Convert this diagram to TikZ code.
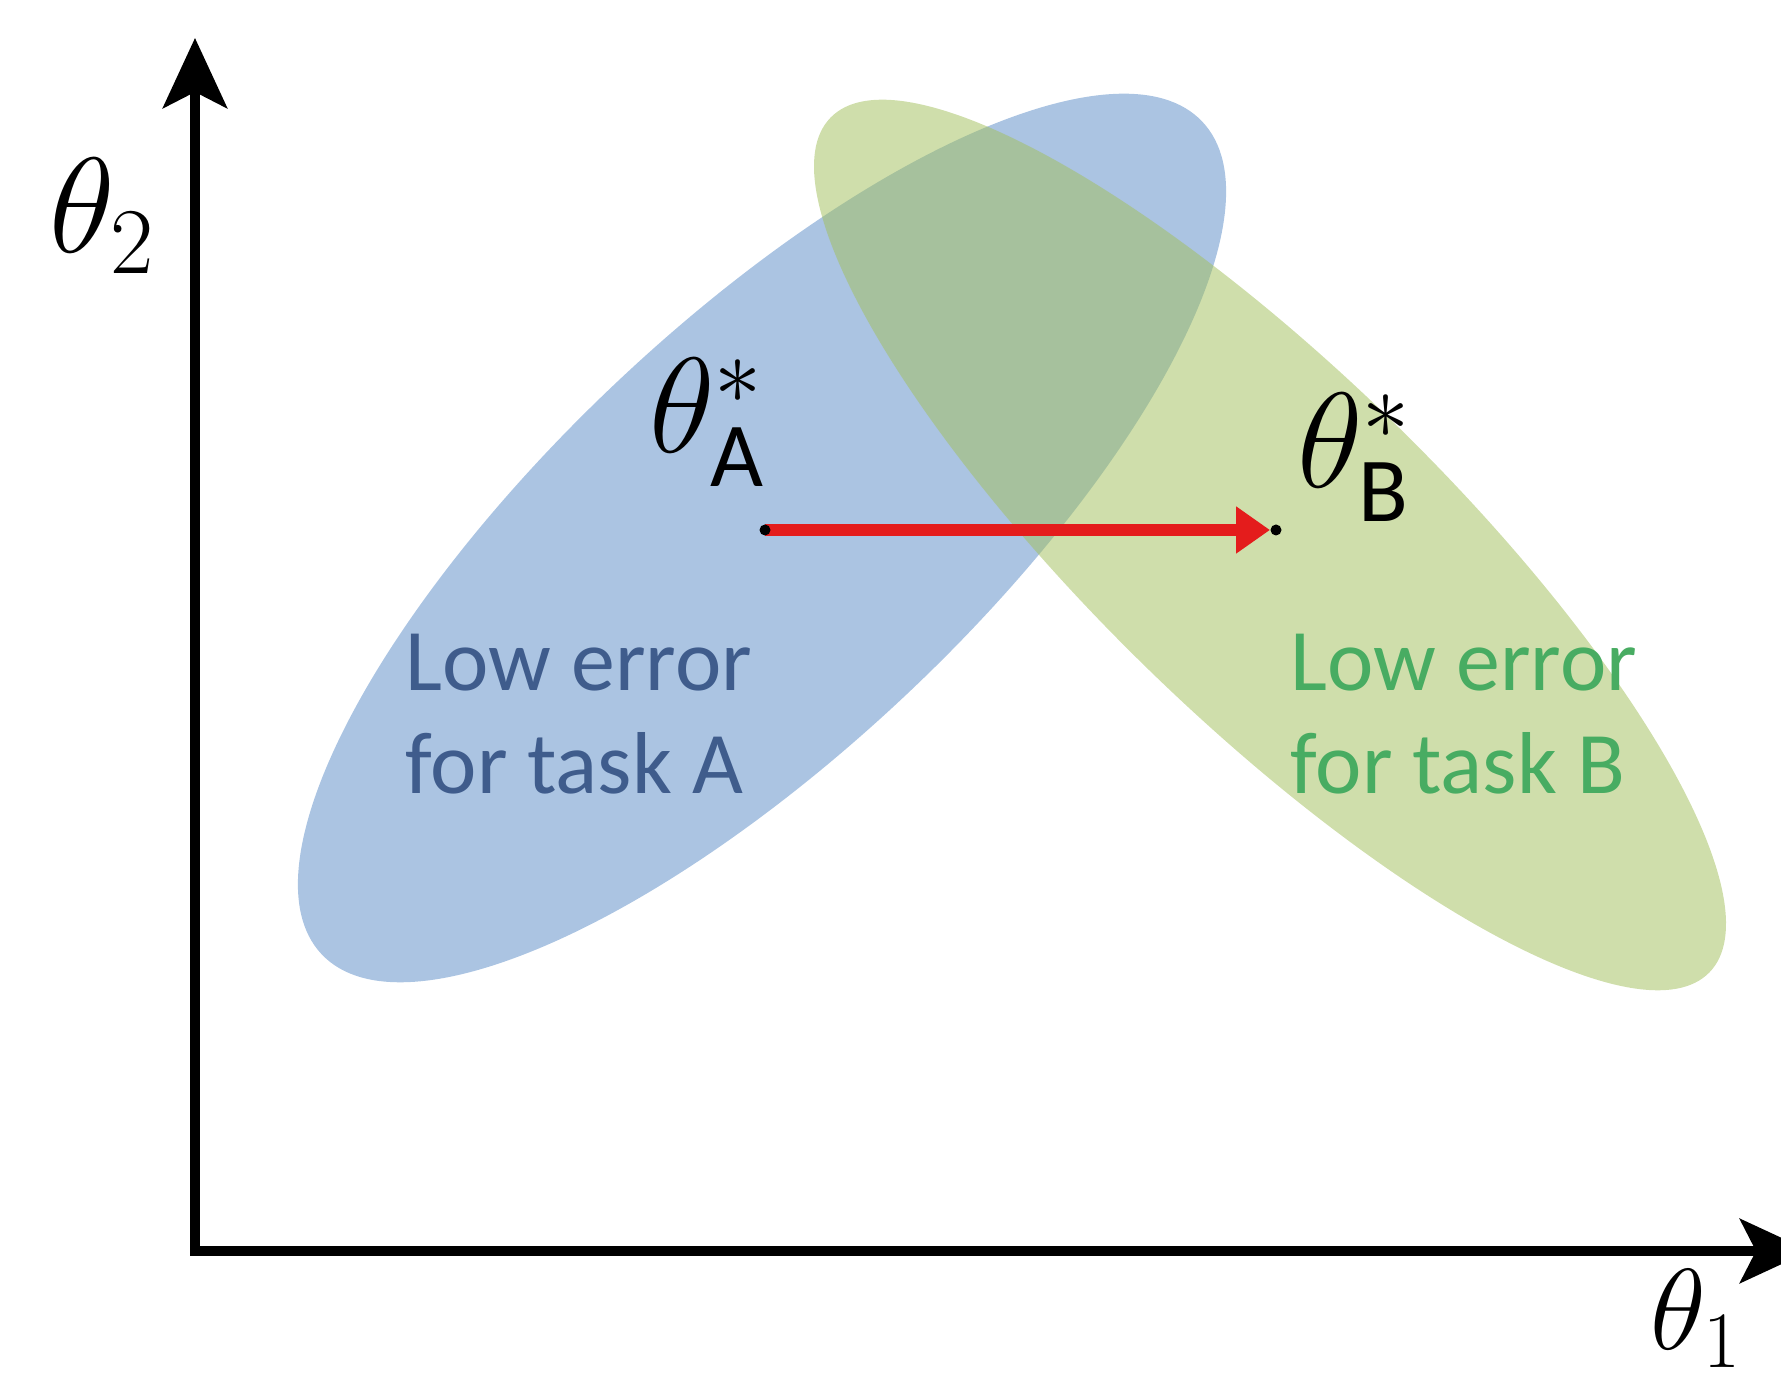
\documentclass[tikz,border=0pt]{standalone}
\usepackage{fontspec}
\setmainfont{Carlito}
\usepackage{xcolor}
\usepackage{tikz}
\usetikzlibrary{arrows.meta}

\definecolor{errblue}{RGB}{171,196,226}
\definecolor{errgreen}{RGB}{163,192,94}
\definecolor{txtblue}{RGB}{63,92,140}
\definecolor{txtgreen}{RGB}{72,172,98}
\definecolor{stepred}{RGB}{228,28,28}

\begin{document}
\begin{tikzpicture}[
    axis/.style={line width=2.8pt, {Stealth[length=7mm, width=6.4mm, inset=1.6mm]}-{Stealth[length=7mm, width=6.4mm, inset=1.6mm]}},
    dot/.style={circle, fill=black, inner sep=0pt, minimum size=1.1mm},
    sym/.style={inner sep=0pt, anchor=base west, font=\fontsize{24}{29}\selectfont, scale=1.55, transform shape},
    note/.style={inner sep=0pt, anchor=north west, align=left, font=\fontsize{25}{29.3}\selectfont},
    move/.style={stepred, line width=3.6pt, -{Triangle[length=3.4mm, width=4.5mm]}, shorten >=0.6mm}
]

\useasboundingbox (0,0) rectangle (17.81,13.83);

% Low error regions
\fill[errblue, rotate around={43.4:(7.62,8.45)}] (7.62,8.45) ellipse [x radius=6.06, y radius=2.13];
\fill[errgreen, fill opacity=0.52, rotate around={-44.2:(12.70,8.38)}] (12.70,8.38) ellipse [x radius=6.13, y radius=1.74];

% Axes
\coordinate (origin) at (1.95,1.32);
\coordinate (ytip) at (1.95,13.45);
\coordinate (xtip) at (18.10,1.32);
\draw[axis] (ytip) -- (origin) -- (xtip);
\node[sym] (t2) at (0.48,11.30) {$\theta_2$};
\node[sym, scale=0.85] (t1) at (16.50,0.33) {$\theta_1$};

% Optima
\coordinate (pA) at (7.65,8.53);
\coordinate (pB) at (12.76,8.53);
\draw[move] (pA) -- (pB);
\node[dot] (dA) at (pA) {};
\node[dot] (dB) at (pB) {};
\node[sym] (thA) at (6.48,9.30) {$\theta^{*}_{\mathrm{A}}$};
\node[sym] (thB) at (12.96,8.95) {$\theta^{*}_{\mathrm{B}}$};

% Region labels
\node[note, text=txtblue] (lowA) at (4.05,7.50) {Low error\\for task A};
\node[note, text=txtgreen] (lowB) at (12.90,7.50) {Low error\\for task B};

\end{tikzpicture}
\end{document}
